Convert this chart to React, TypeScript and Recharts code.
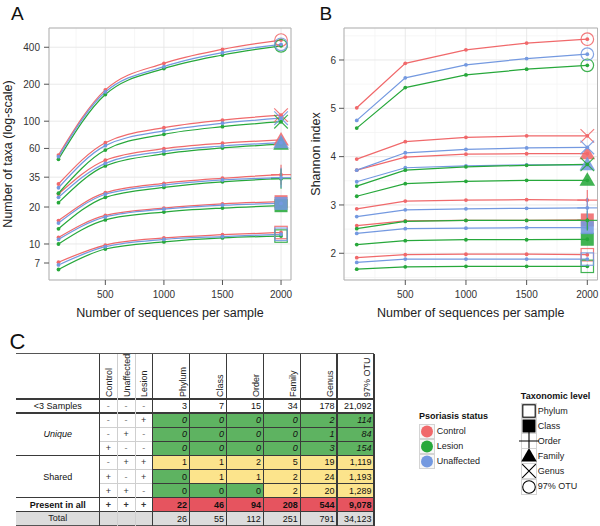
import React from 'react';
import { LineChart, Line, XAxis, YAxis, CartesianGrid, ReferenceArea } from 'recharts';

const FONT = '"Liberation Sans", Arial, Helvetica, sans-serif';

// ---------- data ----------
const depths = [100, 500, 1000, 1500, 2000];
const depthTicks = [500, 1000, 1500, 2000];
const depthMinor = [250, 750, 1250, 1750];
const levels = ['Phylum', 'Class', 'Order', 'Family', 'Genus', '97% OTU'];
const groups = ['Control', 'Lesion', 'Unaffected'];
const groupColors = ['#F0696B', '#27A83B', '#7499E0'];

const taxaTicks = [7, 10, 20, 35, 60, 100, 200, 400];
const shannonTicks = [2, 3, 4, 5, 6];
const shannonMinor = [1.5, 2.5, 3.5, 4.5, 5.5, 6.5];

// richness (number of taxa) per level: Phylum, Class, Order, Family, Genus, 97% OTU
const richControl = [
  [7.1, 9.8, 11.2, 11.9, 12.4],
  [11.3, 17.1, 19.6, 21.2, 22.1],
  [15.5, 26.2, 31.2, 34.3, 36.7],
  [25.5, 48.1, 59.7, 66.1, 70.3],
  [30.8, 66.8, 88.5, 102, 112],
  [53, 180, 296, 385, 458],
];
const richLesion = [
  [6.2, 9.1, 10.4, 11.2, 11.6],
  [10.0, 15.7, 18.2, 19.6, 20.5],
  [13.3, 24.0, 28.9, 32.1, 34.0],
  [21.7, 43.2, 54.1, 60.5, 64.9],
  [25.9, 58.2, 78.2, 90.2, 99],
  [49, 165, 268, 346, 411],
];
const richUnaffected = [
  [6.75, 9.5, 10.9, 11.5, 12.0],
  [10.9, 16.6, 19.2, 20.7, 21.4],
  [14.8, 25.4, 30.2, 33.2, 34.7],
  [24.0, 45.4, 56.9, 62.8, 66.8],
  [28.7, 63.2, 83.3, 96.2, 105.7],
  [51.4, 173, 278, 361, 423],
];

// Shannon index per level
const shanControl = [
  [1.91, 1.97, 1.98, 1.98, 1.97],
  [2.57, 2.67, 2.68, 2.68, 2.69],
  [2.92, 3.08, 3.10, 3.11, 3.10],
  [3.72, 3.99, 4.05, 4.06, 4.06],
  [3.95, 4.31, 4.40, 4.43, 4.43],
  [5.01, 5.93, 6.21, 6.35, 6.43],
];
const shanLesion = [
  [1.67, 1.72, 1.73, 1.73, 1.73],
  [2.18, 2.26, 2.28, 2.28, 2.29],
  [2.51, 2.66, 2.68, 2.68, 2.68],
  [3.18, 3.44, 3.49, 3.51, 3.51],
  [3.39, 3.72, 3.79, 3.82, 3.84],
  [4.59, 5.43, 5.69, 5.81, 5.89],
];
const shanUnaffected = [
  [1.81, 1.88, 1.88, 1.88, 1.88],
  [2.41, 2.51, 2.52, 2.53, 2.53],
  [2.76, 2.90, 2.92, 2.93, 2.94],
  [3.48, 3.77, 3.81, 3.83, 3.83],
  [3.72, 4.08, 4.15, 4.18, 4.19],
  [4.75, 5.63, 5.90, 6.03, 6.12],
];

// table
const statusCols = ['Control', 'Unaffected', 'Lesion'];
const countCols = ['Phylum', 'Class', 'Order', 'Family', 'Genus', '97% OTU'];
const presence = [
  ['-', '-', '-'],
  ['-', '-', '+'],
  ['-', '+', '-'],
  ['+', '-', '-'],
  ['-', '+', '+'],
  ['+', '-', '+'],
  ['+', '+', '-'],
  ['+', '+', '+'],
];
const counts = [
  ['3', '7', '15', '34', '178', '21,092'],
  ['0', '0', '0', '0', '2', '114'],
  ['0', '0', '0', '0', '1', '84'],
  ['0', '0', '0', '0', '3', '154'],
  ['1', '1', '2', '5', '19', '1,119'],
  ['0', '1', '1', '2', '24', '1,193'],
  ['0', '0', '0', '2', '20', '1,289'],
  ['22', '46', '94', '208', '544', '9,078'],
];
const rowKinds = ['rare', 'unique', 'unique', 'unique', 'shared', 'shared', 'shared', 'all'];
const groupLabels = [
  { text: '<3 Samples', from: 0, to: 0 },
  { text: 'Unique', from: 1, to: 3 },
  { text: 'Shared', from: 4, to: 6 },
  { text: 'Present in all', from: 7, to: 7 },
];
const totalLabel = 'Total';
const totalCounts = ['26', '55', '112', '251', '791', '34,123'];

// ---------- layout / style ----------
const GREEN = '#5EB361';
const YELLOW = '#FCE48C';
const RED = '#E6545F';
const GREY = '#DCDCDC';
const LINE = '#3A3A3A';
const LIGHT = '#CFCFCF';

function buildRows(sets: number[][][]) {
  return depths.map((d, i) => {
    const row: Record<string, number> = { x: d };
    sets.forEach((set, g) => set.forEach((vals, l) => { row[`g${g}_l${l}`] = vals[i]; }));
    return row;
  });
}

function Marker({ kind, x, y, color, sw = 1.2 }: { kind: number; x: number; y: number; color: string; sw?: number }) {
  switch (kind) {
    case 0:
      return <rect x={x - 6.2} y={y - 6.2} width={12.4} height={12.4} fill="none" stroke={color} strokeWidth={sw} />;
    case 1:
      return <rect x={x - 6.5} y={y - 6.5} width={13} height={13} fill={color} />;
    case 2:
      return <path d={`M${x - 10} ${y}H${x + 10}M${x} ${y - 10}V${y + 10}`} stroke={color} strokeWidth={sw} fill="none" />;
    case 3:
      return <path d={`M${x - 7.8} ${y + 5.5}L${x + 7.8} ${y + 5.5}L${x} ${y - 8}Z`} fill={color} />;
    case 4:
      return <path d={`M${x - 6.8} ${y - 6.8}L${x + 6.8} ${y + 6.8}M${x + 6.8} ${y - 6.8}L${x - 6.8} ${y + 6.8}`} stroke={color} strokeWidth={sw} fill="none" />;
    default:
      return <circle cx={x} cy={y} r={6.3} fill="none" stroke={color} strokeWidth={sw} />;
  }
}

const makeDot = (color: string, kind: number, id: string) => (props: any) => {
  const { cx, cy, index } = props;
  const key = `${id}-${index}`;
  if (cx == null || cy == null || Number.isNaN(cx) || Number.isNaN(cy)) return <g key={key} />;
  return (
    <g key={key}>
      <circle cx={cx} cy={cy} r={1.9} fill={color} />
      {index === depths.length - 1 && (
        <g opacity={0.88}>
          <Marker kind={kind} x={cx} y={cy} color={color} />
        </g>
      )}
    </g>
  );
};

interface PanelProps {
  data: Record<string, number>[];
  yScale: 'log' | 'linear';
  yDomain: [number, number];
  yTicks: number[];
  yMinor?: number[];
  xDomain: [number, number];
  curve: 'monotone' | 'linear';
  yTitle: string;
  yAxisWidth: number;
  yTitleOffset: number;
  rightMargin: number;
  yTickMargin: number;
}

function Panel(p: PanelProps) {
  const series: React.ReactNode[] = [];
  levels.forEach((lev, l) => {
    groups.forEach((grp, g) => {
      series.push(
        <Line
          key={`g${g}_l${l}`}
          dataKey={`g${g}_l${l}`}
          name={`${grp} ${lev}`}
          type={p.curve}
          stroke={groupColors[g]}
          strokeWidth={1.25}
          dot={makeDot(groupColors[g], l, `${p.yTitle}-${g}-${l}`)}
          activeDot={false}
          isAnimationActive={false}
        />
      );
    });
  });
  return (
    <LineChart width={300} height={322} data={p.data} margin={{ top: 28, right: p.rightMargin, bottom: 0, left: 0 }}>
      <CartesianGrid
        verticalValues={depthMinor}
        horizontal={!!p.yMinor}
        horizontalValues={p.yMinor}
        stroke="#F4F4F4"
        strokeWidth={0.8}
      />
      <CartesianGrid stroke="#E6E6E6" strokeWidth={0.9} />
      <XAxis
        type="number"
        dataKey="x"
        domain={p.xDomain}
        ticks={depthTicks}
        allowDataOverflow
        height={42}
        tickSize={5}
        tickMargin={6}
        axisLine={false}
        tickLine={{ stroke: '#555' }}
        tick={{ fontSize: 10, fill: '#333', fontFamily: FONT }}
        label={{
          value: 'Number of sequences per sample',
          position: 'insideBottom',
          offset: 5,
          style: { fontSize: 12.5, fill: '#222', fontFamily: FONT },
        }}
      />
      <YAxis
        type="number"
        scale={p.yScale}
        domain={p.yDomain}
        ticks={p.yTicks}
        allowDataOverflow
        width={p.yAxisWidth}
        tickSize={5}
        tickMargin={p.yTickMargin}
        axisLine={false}
        tickLine={{ stroke: '#555' }}
        tick={{ fontSize: 10, fill: '#333', fontFamily: FONT }}
        label={{
          value: p.yTitle,
          angle: -90,
          position: 'insideLeft',
          offset: p.yTitleOffset,
          style: { fontSize: 12.5, fill: '#222', fontFamily: FONT, textAnchor: 'middle' },
        }}
      />
      <ReferenceArea
        x1={p.xDomain[0]}
        x2={p.xDomain[1]}
        y1={p.yDomain[0]}
        y2={p.yDomain[1]}
        fill="none"
        stroke="#B4B4B4"
        strokeWidth={1}
        ifOverflow="visible"
      />
      {series}
    </LineChart>
  );
}

// ---------- table ----------
const TL = 16;
const TR = 374;
const TTOP = 353.5;
const HB = 399;
const RH = 14.1;
const colEdges = [16, 99.5, 117.2, 134.9, 152.6, 189.5, 226.6, 263.4, 300.2, 337, 374];
const rowTop = (r: number) => HB + r * RH;

function hLine(key: string, x1: number, x2: number, y: number, color: string, w: number) {
  return <div key={key} style={{ position: 'absolute', left: x1, width: x2 - x1, top: y - w / 2, height: w, background: color }} />;
}
function vLine(key: string, x: number, y1: number, y2: number, color: string, w: number) {
  return <div key={key} style={{ position: 'absolute', left: x - w / 2, width: w, top: y1, height: y2 - y1, background: color }} />;
}

function cellColor(r: number, c: number) {
  const kind = rowKinds[r];
  if (kind === 'rare') return '#FFFFFF';
  if (kind === 'unique') return GREEN;
  if (kind === 'all') return RED;
  return counts[r][c] === '0' ? GREEN : YELLOW;
}

function Table() {
  const els: React.ReactNode[] = [];
  const nRows = counts.length;
  const bottom = rowTop(nRows + 1);
  // backgrounds
  counts.forEach((row, r) => {
    row.forEach((_, c) => {
      els.push(
        <div key={`bg${r}-${c}`} style={{ position: 'absolute', left: colEdges[4 + c], width: colEdges[5 + c] - colEdges[4 + c], top: rowTop(r), height: RH, background: cellColor(r, c) }} />
      );
    });
  });
  els.push(<div key="totbg" style={{ position: 'absolute', left: TL, width: TR - TL, top: rowTop(nRows), height: bottom - rowTop(nRows), background: GREY }} />);

  // header texts (rotated, reading bottom-to-top)
  statusCols.forEach((s, i) => {
    const cx = (colEdges[1 + i] + colEdges[2 + i]) / 2 + 0.6;
    els.push(
      <div key={`hs${i}`} style={{ position: 'absolute', left: cx - 4.9, top: 397, transform: 'rotate(-90deg)', transformOrigin: '0 0', fontSize: 9, lineHeight: '10px', whiteSpace: 'nowrap', color: '#222' }}>{s}</div>
    );
  });
  countCols.forEach((s, i) => {
    const right = colEdges[5 + i];
    els.push(
      <div key={`hc${i}`} style={{ position: 'absolute', left: right - 12, top: 397, transform: 'rotate(-90deg)', transformOrigin: '0 0', fontSize: 9, lineHeight: '10px', whiteSpace: 'nowrap', color: '#222' }}>{s}</div>
    );
  });

  // group labels
  groupLabels.forEach((g, i) => {
    const y1 = rowTop(g.from);
    const y2 = rowTop(g.to + 1);
    els.push(
      <div key={`gl${i}`} style={{ position: 'absolute', left: TL, width: colEdges[1] - TL, top: y1, height: y2 - y1, display: 'flex', alignItems: 'center', justifyContent: 'center', fontSize: 9, color: '#111', fontStyle: g.text === 'Unique' ? 'italic' : 'normal', fontWeight: g.text === 'Present in all' ? 'bold' : 'normal' }}>{g.text}</div>
    );
  });
  els.push(
    <div key="totlab" style={{ position: 'absolute', left: TL, width: colEdges[1] - TL, top: rowTop(nRows) - 1, height: RH, display: 'flex', alignItems: 'center', justifyContent: 'center', fontSize: 9, color: '#222' }}>{totalLabel}</div>
  );

  // presence marks
  presence.forEach((row, r) => {
    row.forEach((m, c) => {
      els.push(
        <div key={`pm${r}-${c}`} style={{ position: 'absolute', left: colEdges[1 + c], width: colEdges[2 + c] - colEdges[1 + c], top: rowTop(r), height: RH, display: 'flex', alignItems: 'center', justifyContent: 'center', fontSize: 9, color: m === '+' ? '#333' : '#777', fontWeight: rowKinds[r] === 'all' ? 'bold' : 'normal' }}>{m}</div>
      );
    });
  });

  // counts
  const allRows = [...counts, totalCounts];
  allRows.forEach((row, r) => {
    const kind = r < nRows ? rowKinds[r] : 'total';
    row.forEach((v, c) => {
      els.push(
        <div key={`ct${r}-${c}`} style={{ position: 'absolute', left: colEdges[4 + c], width: colEdges[5 + c] - colEdges[4 + c] - 2.5, top: rowTop(r) + (kind === 'total' ? 0.5 : 0), height: RH, display: 'flex', alignItems: 'center', justifyContent: 'flex-end', fontSize: 9, color: '#111', fontStyle: kind === 'unique' ? 'italic' : 'normal', fontWeight: kind === 'all' ? 'bold' : 'normal' }}>{v}</div>
      );
    });
  });

  // lines
  els.push(hLine('top', TL, TR, TTOP, '#555', 1));
  const thickRows = [0, 1, 4, 7, 8];
  thickRows.forEach((r) => els.push(hLine(`th${r}`, TL, TR, rowTop(r), LINE, 1.4)));
  els.push(hLine('bot', TL, TR, bottom, '#555', 1));
  [2, 3, 5, 6].forEach((r) => {
    els.push(hLine(`tsl${r}`, colEdges[1], colEdges[4], rowTop(r), LIGHT, 0.8));
    els.push(hLine(`tcl${r}`, colEdges[4], TR, rowTop(r), LINE, 1));
  });
  [2, 3].forEach((c) => els.push(vLine(`vs${c}`, colEdges[c], TTOP, bottom, LIGHT, 0.8)));
  [1, 4].forEach((c) => els.push(vLine(`vt${c}`, colEdges[c], TTOP, bottom, LINE, 1.4)));
  [5, 6, 7, 8, 9, 10].forEach((c) => els.push(vLine(`vc${c}`, colEdges[c], TTOP, bottom, LINE, 1.1)));

  return <>{els}</>;
}

// ---------- legends ----------
function LegendStatus() {
  const left = 418.5;
  return (
    <>
      <div style={{ position: 'absolute', left: left + 0.5, top: 410.5, fontSize: 9, lineHeight: '11px', fontWeight: 'bold', color: '#111', whiteSpace: 'nowrap' }}>Psoriasis status</div>
      {groups.map((g, i) => {
        const cy = 431.7 + i * 15;
        return (
          <React.Fragment key={g}>
            <svg style={{ position: 'absolute', left, top: cy - 7.5 }} width={16} height={15}>
              <rect x={0.5} y={0.5} width={15} height={14} fill="#F7F7F7" stroke="#D4D4D4" />
              <circle cx={8} cy={7.5} r={6} fill={groupColors[i]} />
            </svg>
            <div style={{ position: 'absolute', left: 436.7, top: cy - 5.5, fontSize: 9, lineHeight: '11px', color: '#222', whiteSpace: 'nowrap' }}>{g}</div>
          </React.Fragment>
        );
      })}
    </>
  );
}

function LegendLevels() {
  const left = 520.5;
  return (
    <>
      <div style={{ position: 'absolute', left: left + 0.3, top: 390.5, fontSize: 9, lineHeight: '11px', fontWeight: 'bold', color: '#111', whiteSpace: 'nowrap' }}>Taxonomic level</div>
      {levels.map((lv, i) => {
        const cy = 411 + i * 15.1;
        return (
          <React.Fragment key={lv}>
            <svg style={{ position: 'absolute', left: left - 3, top: cy - 9, overflow: 'visible' }} width={22} height={18}>
              <rect x={3.5} y={1.5} width={15} height={15} fill="#FFFFFF" stroke="#D4D4D4" />
              <Marker kind={i} x={11} y={9} color="#000" sw={1.1} />
            </svg>
            <div style={{ position: 'absolute', left: 537.7, top: cy - 5.5, fontSize: 9, lineHeight: '11px', color: '#222', whiteSpace: 'nowrap' }}>{lv}</div>
          </React.Fragment>
        );
      })}
    </>
  );
}

export default function App() {
  const dataA = buildRows([richControl, richLesion, richUnaffected]);
  const dataB = buildRows([shanControl, shanLesion, shanUnaffected]);
  const labelStyle: React.CSSProperties = { position: 'absolute', lineHeight: 1, color: '#111' };
  return (
    <div style={{ position: 'absolute', left: 0, top: 0, width: 600, height: 526, background: '#fff', fontFamily: FONT, overflow: 'hidden' }}>
      <div style={{ position: 'absolute', left: 0, top: 0 }}>
        <Panel
          data={dataA}
          yScale="log"
          yDomain={[5.09, 574]}
          yTicks={taxaTicks}
          xDomain={[19, 2085]}
          curve="monotone"
          yTitle="Number of taxa (log-scale)"
          yAxisWidth={49}
          yTitleOffset={8}
          rightMargin={9}
          yTickMargin={4}
        />
      </div>
      <div style={{ position: 'absolute', left: 300, top: 0 }}>
        <Panel
          data={dataB}
          yScale="linear"
          yDomain={[1.447, 6.662]}
          yTicks={shannonTicks}
          yMinor={shannonMinor}
          xDomain={[-5, 2084]}
          curve="linear"
          yTitle="Shannon index"
          yAxisWidth={44}
          yTitleOffset={16}
          rightMargin={2.5}
          yTickMargin={3}
        />
      </div>
      <div style={{ ...labelStyle, left: 11, top: 3.5, fontSize: 19 }}>A</div>
      <div style={{ ...labelStyle, left: 319.5, top: 3.5, fontSize: 19 }}>B</div>
      <div style={{ ...labelStyle, left: 9.5, top: 331, fontSize: 22 }}>C</div>
      <Table />
      <LegendStatus />
      <LegendLevels />
    </div>
  );
}
